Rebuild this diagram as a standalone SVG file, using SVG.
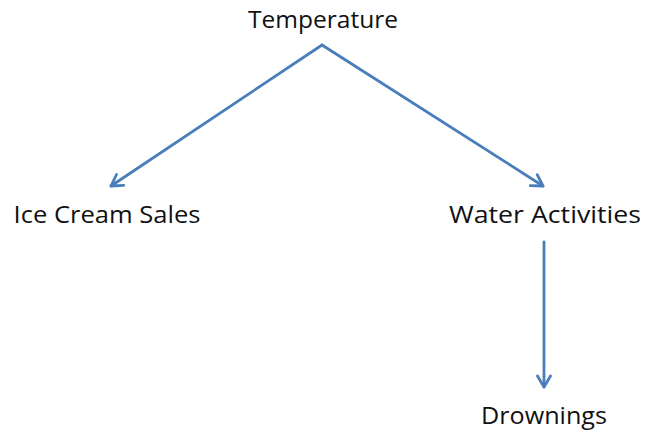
<svg xmlns="http://www.w3.org/2000/svg" width="655" height="433" viewBox="0 0 655 433">
<style>
text{font-family:"Open Sans","Noto Sans","Liberation Sans",sans-serif;font-size:23.5px;fill:#111;text-anchor:middle}
.c{stroke:#4a7ebb;stroke-width:2.8;fill:none;stroke-linecap:round;stroke-linejoin:round}
</style>
<defs>
<marker id="a" viewBox="0 0 16 16" refX="13" refY="8" markerWidth="16" markerHeight="16" markerUnits="userSpaceOnUse" orient="auto">
<path d="M2,1.5 L13,8 L2,14.5" fill="none" stroke="#4a7ebb" stroke-width="2.8" stroke-linecap="round" stroke-linejoin="round"/>
</marker>
</defs>
<rect width="655" height="433" fill="#fff"/>
<g id="connectors">
<line class="c" x1="322" y1="45" x2="111" y2="186" marker-end="url(#a)"/>
<line class="c" x1="322" y1="45" x2="543" y2="186" marker-end="url(#a)"/>
<line class="c" x1="544" y1="242" x2="544" y2="387" marker-end="url(#a)"/>
</g>
<g id="temperature"><text x="323" y="28" textLength="150" lengthAdjust="spacingAndGlyphs">Temperature</text></g>
<g id="icecream"><text x="107" y="223" textLength="187" lengthAdjust="spacingAndGlyphs">Ice Cream Sales</text></g>
<g id="water"><text x="545" y="223" textLength="192" lengthAdjust="spacingAndGlyphs">Water Activities</text></g>
<g id="drownings"><text x="544" y="424" textLength="126" lengthAdjust="spacingAndGlyphs">Drownings</text></g>
</svg>
